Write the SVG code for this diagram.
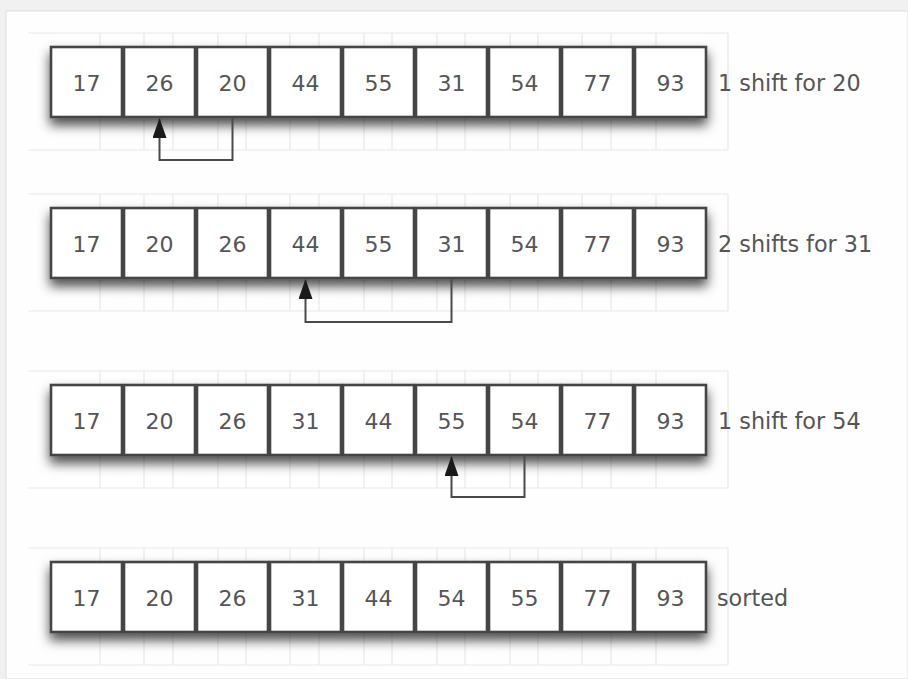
<svg xmlns="http://www.w3.org/2000/svg" width="908" height="679" viewBox="0 0 908 679">
<defs>
<style>
.grid line{stroke:#e8e8e8;stroke-width:1.2}
.cell{fill:#fff;stroke:#454545;stroke-width:2.6}
.num{font-family:"DejaVu Sans",sans-serif;font-size:22px;fill:#555;text-anchor:middle}
.lbl{font-family:"DejaVu Sans",sans-serif;font-size:22.3px;fill:#555}
.conn{fill:none;stroke:#4a4a4a;stroke-width:2}
</style>
<filter id="sh" x="-10%" y="-40%" width="120%" height="200%">
<feDropShadow dx="0" dy="7" stdDeviation="6" flood-color="#000" flood-opacity="0.7"/>
</filter>
<marker id="ah" viewBox="0 0 20 14" refX="19" refY="7" markerWidth="20" markerHeight="14" markerUnits="userSpaceOnUse" orient="auto">
<path d="M0,0 L20,7 L0,14 Z" fill="#1a1a1a"/>
</marker>
<g id="gridpat" class="grid">
<line x1="28" y1="0" x2="728" y2="0"/>
<line x1="28" y1="117" x2="728" y2="117"/>
<line x1="100" y1="0" x2="100" y2="117"/><line x1="173" y1="0" x2="173" y2="117"/><line x1="246" y1="0" x2="246" y2="117"/><line x1="319" y1="0" x2="319" y2="117"/><line x1="392" y1="0" x2="392" y2="117"/><line x1="465" y1="0" x2="465" y2="117"/><line x1="538" y1="0" x2="538" y2="117"/><line x1="611" y1="0" x2="611" y2="117"/>
<line x1="144" y1="0" x2="144" y2="117"/><line x1="218" y1="0" x2="218" y2="117"/><line x1="290" y1="0" x2="290" y2="117"/><line x1="364" y1="0" x2="364" y2="117"/><line x1="437" y1="0" x2="437" y2="117"/><line x1="510" y1="0" x2="510" y2="117"/><line x1="582" y1="0" x2="582" y2="117"/><line x1="656" y1="0" x2="656" y2="117"/>
<line x1="728" y1="0" x2="728" y2="117"/>
</g>
<g id="cells">
<rect class="cell" x="51" y="0" width="71" height="70"/>
<rect class="cell" x="124" y="0" width="71" height="70"/>
<rect class="cell" x="197" y="0" width="71" height="70"/>
<rect class="cell" x="270" y="0" width="71" height="70"/>
<rect class="cell" x="343" y="0" width="71" height="70"/>
<rect class="cell" x="416" y="0" width="71" height="70"/>
<rect class="cell" x="489" y="0" width="71" height="70"/>
<rect class="cell" x="562" y="0" width="71" height="70"/>
<rect class="cell" x="635" y="0" width="71" height="70"/>
</g>
</defs>
<rect x="0" y="0" width="908" height="679" fill="#f1f1f1"/>
<rect x="6" y="11" width="902" height="668" fill="#fefefe" stroke="#e2e2e2" stroke-width="1.2"/>

<use href="#gridpat" y="33"/>
<use href="#gridpat" y="194"/>
<use href="#gridpat" y="371"/>
<use href="#gridpat" y="548"/>

<g id="row1" transform="translate(0,47)">
<use href="#cells" filter="url(#sh)"/>
<g class="num">
<text x="86.5" y="44">17</text><text x="159.5" y="44">26</text><text x="232.5" y="44">20</text><text x="305.5" y="44">44</text><text x="378.5" y="44">55</text><text x="451.5" y="44">31</text><text x="524.5" y="44">54</text><text x="597.5" y="44">77</text><text x="670.5" y="44">93</text>
</g>
<text class="lbl" x="718" y="44">1 shift for 20</text>
</g>

<g id="row2" transform="translate(0,208)">
<use href="#cells" filter="url(#sh)"/>
<g class="num">
<text x="86.5" y="44">17</text><text x="159.5" y="44">20</text><text x="232.5" y="44">26</text><text x="305.5" y="44">44</text><text x="378.5" y="44">55</text><text x="451.5" y="44">31</text><text x="524.5" y="44">54</text><text x="597.5" y="44">77</text><text x="670.5" y="44">93</text>
</g>
<text class="lbl" x="718" y="44">2 shifts for 31</text>
</g>

<g id="row3" transform="translate(0,385)">
<use href="#cells" filter="url(#sh)"/>
<g class="num">
<text x="86.5" y="44">17</text><text x="159.5" y="44">20</text><text x="232.5" y="44">26</text><text x="305.5" y="44">31</text><text x="378.5" y="44">44</text><text x="451.5" y="44">55</text><text x="524.5" y="44">54</text><text x="597.5" y="44">77</text><text x="670.5" y="44">93</text>
</g>
<text class="lbl" x="718" y="44">1 shift for 54</text>
</g>

<g id="row4" transform="translate(0,562)">
<use href="#cells" filter="url(#sh)"/>
<g class="num">
<text x="86.5" y="44">17</text><text x="159.5" y="44">20</text><text x="232.5" y="44">26</text><text x="305.5" y="44">31</text><text x="378.5" y="44">44</text><text x="451.5" y="44">54</text><text x="524.5" y="44">55</text><text x="597.5" y="44">77</text><text x="670.5" y="44">93</text>
</g>
<text class="lbl" x="717" y="44">sorted</text>
</g>

<g id="connectors">
<path class="conn" d="M232.5,118 V160 H159.5 V119" marker-end="url(#ah)"/>
<path class="conn" d="M451.5,279 V322 H305.5 V280" marker-end="url(#ah)"/>
<path class="conn" d="M524.5,456 V497 H451.5 V457" marker-end="url(#ah)"/>
</g>
</svg>
